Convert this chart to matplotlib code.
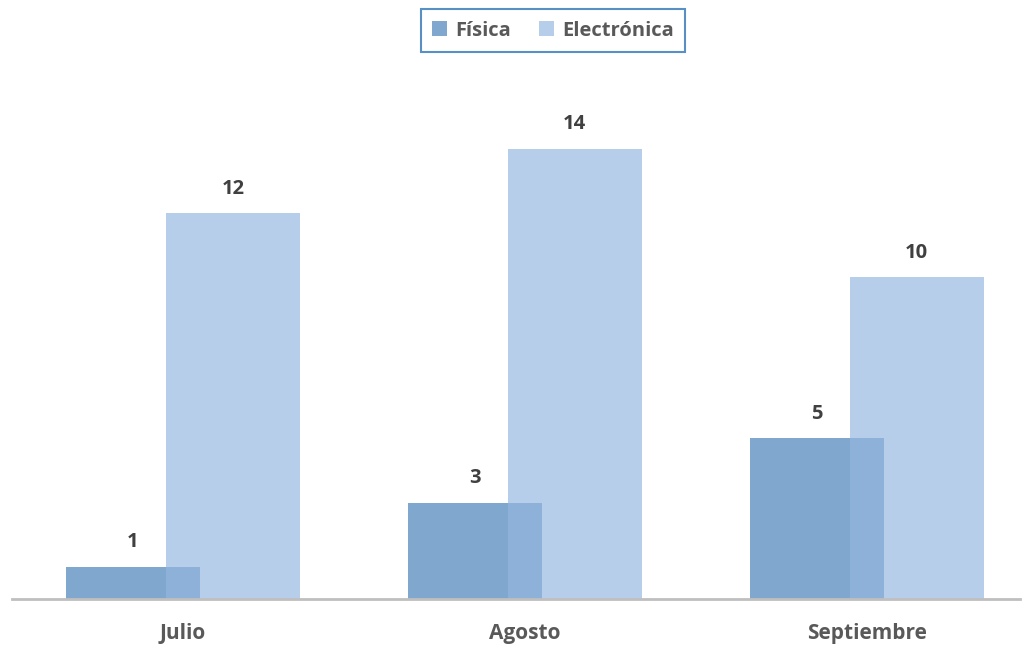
import numpy as np
import matplotlib.pyplot as plt

meses = ["Julio", "Agosto", "Septiembre"]
fisica = [1, 3, 5]
electronica = [12, 14, 10]

plt.rcParams['font.family'] = ['Open Sans', 'DejaVu Sans']

fig = plt.figure(figsize=(10.23, 6.45), dpi=100)
ax = fig.add_axes([0.0117, 0.0713, 0.985, 0.798])

x = np.arange(len(meses))
w = 0.392
off = 0.146

b1 = ax.bar(x - off, fisica, w, color=(128/255, 167/255, 206/255), zorder=2, label="Física")
b2 = ax.bar(x + off, electronica, w, color=(150/255, 183/255, 224/255), alpha=0.68, zorder=3, label="Electrónica")

for xi, v in zip(x, fisica):
    ax.text(xi - off, v + 0.76, str(v), ha='center', va='center', fontsize=14.5,
            fontweight='bold', color='#404040')
for xi, v in zip(x, electronica):
    ax.text(xi + off, v + 0.76, str(v), ha='center', va='center', fontsize=14.5,
            fontweight='bold', color='#404040')

ax.set_xlim(-0.5, 2.447)
ax.set_ylim(0, 16)
ax.set_xticks(x)
ax.set_xticklabels(meses, fontsize=15, fontweight='bold', color='#595959')
ax.tick_params(axis='x', length=0, pad=17)
ax.set_yticks([])
for s in ['top', 'right', 'left']:
    ax.spines[s].set_visible(False)
ax.spines['bottom'].set_color('#BFBFBF')
ax.spines['bottom'].set_linewidth(2)
ax.spines['bottom'].set_zorder(4)

leg = fig.legend(handles=[b1, b2], loc='center', bbox_to_anchor=(553/1023, 1 - 30.5/645),
                 ncol=2, prop={'weight': 'bold', 'size': 14.5},
                 frameon=True, fancybox=False, handlelength=0.75, handleheight=0.75,
                 handletextpad=0.4, columnspacing=1.4, borderpad=0.55)
leg.get_frame().set_edgecolor('#2E75B6')
leg.get_frame().set_linewidth(1.5)
for t in leg.get_texts():
    t.set_color('#595959')

fig.savefig("out.png", dpi=100)
